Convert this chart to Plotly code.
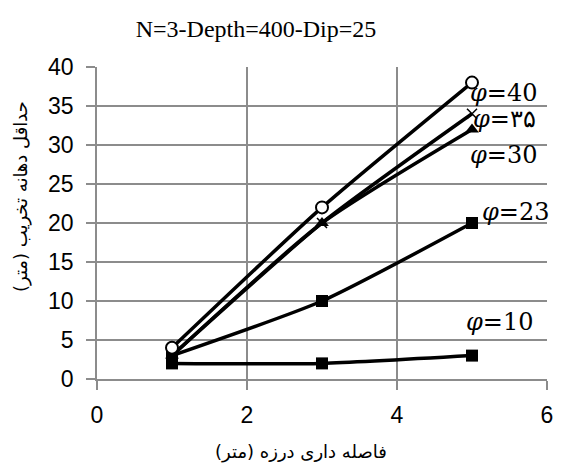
import plotly.graph_objects as go

x_vals = [1, 3, 5]
phi40 = [4, 22, 38]
phi35 = [3, 20, 34]
phi30 = [3, 20, 32]
phi23 = [3, 10, 20]
phi10 = [2, 2, 3]

labels = ["<i>φ</i>=40", "<i>φ</i>=۳۵", "<i>φ</i>=30", "<i>φ</i>=23", "<i>φ</i>=10"]
label_x = [5.42, 5.43, 5.42, 5.58, 5.37]
label_y = [36.7, 33.3, 28.7, 21.4, 7.3]

fig = go.Figure()
series = [
    (phi10, dict(symbol="square", size=12, color="black")),
    (phi23, dict(symbol="square", size=12, color="black")),
    (phi30, dict(symbol="triangle-up", size=12, color="black")),
    (phi35, dict(symbol="x-thin", size=10, color="black", line=dict(width=1.5, color="black"))),
    (phi40, dict(symbol="circle", size=12, color="white", line=dict(width=2, color="black"))),
]
for ys, mk in series:
    fig.add_trace(go.Scatter(
        x=x_vals, y=ys, mode="lines+markers",
        line=dict(color="black", width=3.5, shape="spline", smoothing=0.6),
        marker=mk, showlegend=False, cliponaxis=False,
    ))

for t, lx, ly in zip(labels, label_x, label_y):
    fig.add_annotation(x=lx, y=ly, text=t, showarrow=False,
                       font=dict(family="DejaVu Serif", size=24, color="black"))

fig.add_annotation(xref="paper", yref="paper", x=(304 - 97) / 456, y=-(452 - 379) / 312,
                   text="فاصله داری درزه (متر)", showarrow=False, xanchor="center", yanchor="middle",
                   font=dict(family="DejaVu Sans", size=18, color="black"))
fig.add_annotation(xref="paper", yref="paper", x=-(97 - 20) / 456, y=(379 - 197) / 312,
                   text="حداقل دهانه تخریب (متر)", showarrow=False, textangle=-90,
                   xanchor="center", yanchor="middle",
                   font=dict(family="DejaVu Sans", size=18, color="black"))

grid = "#8c8c8c"
fig.update_layout(
    width=561, height=471,
    margin=dict(l=97, r=8, t=67, b=92),
    paper_bgcolor="white", plot_bgcolor="white",
    title=dict(text="N=3-Depth=400-Dip=25", x=256 / 561, xanchor="center", y=1 - 29 / 471, yanchor="middle",
               font=dict(family="Liberation Serif", size=24, color="black")),
    xaxis=dict(range=[0, 6], dtick=2, showgrid=True, gridcolor=grid, gridwidth=1.6,
               showline=True, linecolor=grid, linewidth=1.6, ticks="outside", ticklen=9,
               tickcolor=grid, tickwidth=1.6, zeroline=False, ticklabelstandoff=6,
               tickfont=dict(family="Liberation Sans", size=23, color="black")),
    yaxis=dict(range=[0, 40], dtick=5, showgrid=True, gridcolor=grid, gridwidth=1.6,
               showline=True, linecolor=grid, linewidth=1.6, ticks="outside", ticklen=9,
               tickcolor=grid, tickwidth=1.6, zeroline=False, ticklabelstandoff=8,
               tickfont=dict(family="Liberation Sans", size=23, color="black")),
)
fig.write_html("out.html")
